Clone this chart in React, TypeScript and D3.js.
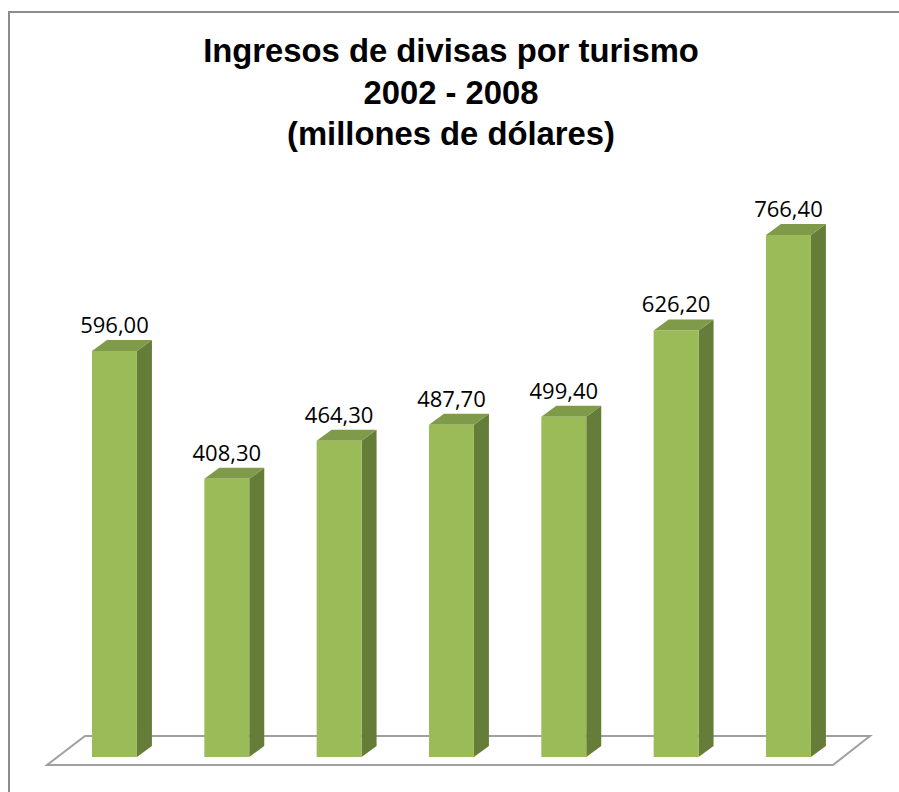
import React, { useEffect } from "react";
import * as d3 from "d3";

const years = ["2002", "2003", "2004", "2005", "2006", "2007", "2008"];
const values = [596.0, 408.3, 464.3, 487.7, 499.4, 626.2, 766.4];
const titleLines = ["Ingresos de divisas por turismo", "2002 - 2008", "(millones de dólares)"];

const W = 899;
const H = 792;
const DX = 15;
const DY = 11;

export default function App() {
  useEffect(() => {
    document.body.style.margin = "0";
    document.body.style.overflow = "hidden";
    document.documentElement.style.overflow = "hidden";
  }, []);

  const x = d3
    .scaleBand<string>()
    .domain(years)
    .range([58.3, 844.6])
    .paddingInner(0.6)
    .paddingOuter(0.3);
  const y = d3.scaleLinear().domain([0, 800]).range([757, 757 - 800 * 0.6812]);
  const bw = x.bandwidth();
  const fmt = (v: number) => d3.format(".2f")(v).replace(".", ",");

  const floorBack = 736;
  const floorFront = 765;
  const floor = `M85,${floorBack} L870,${floorBack} L833,${floorFront} L47,${floorFront} Z`;

  return (
    <svg
      width={W}
      height={H}
      style={{ position: "absolute", left: 0, top: 0, background: "#fff", display: "block" }}
    >
      <rect x={0} y={0} width={W} height={H} fill="#fff" />
      <path d={`M9,${H + 5} L9,12 L${W + 5},12`} fill="none" stroke="#8c8c8c" strokeWidth={2} />
      {titleLines.map((t, i) => (
        <text
          key={i}
          x={451}
          y={[62, 104, 145][i]}
          textAnchor="middle"
          fontFamily="'Liberation Sans', Arial, sans-serif"
          fontWeight="bold"
          fontSize={32.8}
          fill="#000"
        >
          {t}
        </text>
      ))}
      <path d={floor} fill="#fff" stroke="#a0a0a0" strokeWidth={2} />
      {years.map((yr, i) => {
        const x0 = x(yr)!;
        const x1 = x0 + bw;
        const yt = y(values[i]);
        const yb = y(0);
        return (
          <g key={yr}>
            <path
              d={`M${x1},${yt} L${x1 + DX},${yt - DY} L${x1 + DX},${yb - DY} L${x1},${yb} Z`}
              fill="#667d39"
            />
            <path
              d={`M${x0},${yt} L${x0 + DX},${yt - DY} L${x1 + DX},${yt - DY} L${x1},${yt} Z`}
              fill="#7f9a48"
            />
            <rect x={x0} y={yt} width={bw} height={yb - yt} fill="#9bbb59" />
            <text
              x={x0 + bw / 2}
              y={yt - DY - 7}
              textAnchor="middle"
              fontFamily="'Open Sans', sans-serif"
              fontSize={22}
              fill="#000"
            >
              {fmt(values[i])}
            </text>
          </g>
        );
      })}
    </svg>
  );
}
